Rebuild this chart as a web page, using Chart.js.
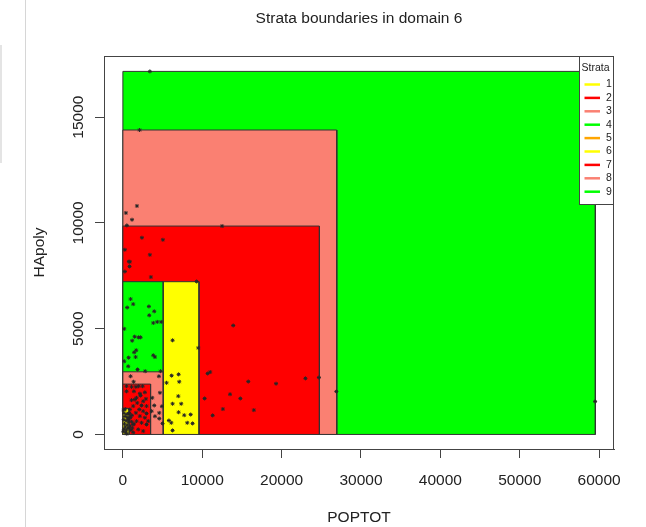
<!DOCTYPE html>
<html>
<head>
<meta charset="utf-8">
<script src="https://cdn.jsdelivr.net/npm/chart.js@4.4.1/dist/chart.umd.min.js"></script>
<style>
  html, body { margin: 0; padding: 0; background: #fff; }
  #wrap { position: relative; width: 646px; height: 527px; }
  #edge { position: absolute; left: 25px; top: 0; width: 1px; height: 527px; background: #d6d6d6; }
  #tab { position: absolute; left: 0; top: 45px; width: 2px; height: 118px; background: #e4e4e4; }
  canvas { position: absolute; left: 0; top: 0; }
</style>
</head>
<body>
<div id="wrap">
  <div id="edge"></div>
  <div id="tab"></div>
  <canvas id="c" width="646" height="527"></canvas>
</div>
<script>
// Strata of domain 6: upper bounds of POPTOT and HApoly for each stratum
const strata = ['1', '2', '3', '4', '5', '6', '7', '8', '9'];
const strataMaxPOPTOT = [800, 3490, 5080, 5080, null, 9590, 24760, 26950, 59530];
const strataMaxHApoly = [1230, 2380, 2960, 7220, null, 7220, 9850, 14390, 17160];
const strataColors = ['#FFFF00', '#FF0000', '#FA8072', '#00FF00', '#FFA500',
                      '#FFFF00', '#FF0000', '#FA8072', '#00FF00'];

// Sampling units (POPTOT, HApoly)
const unitPOPTOT = [
  3400, 59500, 2100, 26900, 24700,
  380, 1770, 500, 1150, 2400, 5040, 250, 3400, 880, 760, 840, 250, 3530, 9290, 9500,
  10680, 11310, 12500, 13900, 11000, 15800, 19300, 23000, 12600, 14800, 16500, 13500, 10300,
  6260, 6140, 7020, 5500, 7100, 6980, 6260, 7350, 7020, 7730, 8540, 5800, 6100, 8110, 8780, 6260,
  970, 1300, 540, 3280, 3320, 3950, 3830, 4330, 4830, 170, 1480, 1980, 2230, 1170, 1680, 1420,
  720, 1600, 3830, 4040, 170, 670, 1850, 2810, 4750,
  970, 4540, 1350, 4670, 3700, 3950, 4920, 3620, 4580, 4040, 4580, 5000,
  460, 1090, 1640, 1980, 2480, 460, 1390, 2140, 2770, 2230, 1720, 2900, 1090, 2560, 1810, 2350,
  1300, 2980, 880, 2060, 2560, 1640, 2980, 1130, 2140, 2770, 670, 1720, 2350, 1300, 2980, 800,
  1930, 2560, 3190, 1510,
  100, 300, 150, 500, 250, 600, 100, 400, 700, 200, 550, 300, 650, 150, 450, 50, 350, 500,
  700, 900, 1000, 1200, 1100, 950, 1300, 1400, 850
];
const unitHApoly = [
  17160, 1560, 14390, 2030, 2690,
  10470, 10800, 9880, 10150, 9300, 9200, 8730, 8490, 8160, 8170, 7940, 7700, 7440, 7230, 4090,
  2880, 900, 9850, 5150, 2950, 2500, 2400, 2650, 1200, 1700, 1150, 1900, 1700,
  4450, 2780, 2840, 2440, 2490, 1810, 1450, 1450, 1050, 910, 940, 660, 550, 550, 520, 190,
  6400, 6160, 6000, 6050, 5630, 5820, 5270, 5320, 5320, 4990, 4620, 4590, 4590, 4430, 3980, 3880,
  3630, 3660, 3740, 3660, 3460, 3220, 3070, 2990, 2990,
  2750, 2750, 2490, 1970, 1730, 1370, 1330, 1100, 1020, 860, 750, 520,
  2280, 2250, 2250, 2280, 2280, 2040, 2040, 1930, 1990, 1840, 1730, 1680, 1620, 1570, 1490, 1370,
  1340, 1340, 1180, 1180, 1100, 1020, 990, 900, 865, 790, 710, 630, 550, 470, 470, 310,
  240, 160, 630, 1650,
  1150, 1200, 1000, 950, 850, 800, 700, 650, 600, 500, 450, 350, 300, 250, 200, 150, 100, 30,
  1000, 400, 200, 300, 600, 800, 100, 500, 1000
];

// Axis ticks
const xTickValues = [0, 10000, 20000, 30000, 40000, 50000, 60000];
const yTickValues = [0, 5000, 10000, 15000];

const chartTitle = 'Strata boundaries in domain 6';
const xTitle = 'POPTOT';
const yTitle = 'HApoly';
const legendTitle = 'Strata';

const FONT = '"Liberation Sans", Arial, Helvetica, sans-serif';
const INK = '#222222';
const LINE = '#444444';

// each stratum is a box from the origin to its upper bounds
function stratumBox(i) {
  const x1 = strataMaxPOPTOT[i], y1 = strataMaxHApoly[i];
  if (x1 == null || y1 == null) return [];
  return [{x: 0, y: 0}, {x: 0, y: y1}, {x: x1, y: y1}, {x: x1, y: 0}, {x: 0, y: 0}];
}

const units = unitPOPTOT.map((x, i) => ({x, y: unitHApoly[i]}));

// first dataset is drawn last (on top): units, then stratum 1 ... stratum 9
const datasets = [{
  label: 'units',
  data: units,
  showLine: false,
  pointStyle: 'star',
  pointRadius: 2,
  borderWidth: 1,
  borderColor: '#262626',
  backgroundColor: '#262626'
}].concat(strata.map((s, i) => ({
  label: s,
  data: stratumBox(i),
  showLine: true,
  fill: 'shape',
  tension: 0,
  backgroundColor: strataColors[i],
  borderColor: '#333333',
  borderWidth: 1,
  pointRadius: 0
})));

// boxed legend in the upper right corner of the plot and the frame around the plot
const framePlugin = {
  id: 'frame',
  afterDatasetsDraw(chart) {
    const ctx = chart.ctx;
    const a = chart.chartArea;
    ctx.save();
    // legend
    const lx = 579.5, ly = 56.5, lw = 34, lh = 148;
    ctx.fillStyle = '#ffffff';
    ctx.fillRect(lx, ly, lw, lh);
    ctx.strokeStyle = LINE;
    ctx.lineWidth = 1;
    ctx.strokeRect(lx, ly, lw, lh);
    ctx.font = '10.5px ' + FONT;
    ctx.fillStyle = INK;
    ctx.textBaseline = 'middle';
    ctx.textAlign = 'left';
    ctx.fillText(legendTitle, lx + 2, ly + 12);
    strata.forEach((s, i) => {
      const y = ly + 28 + i * 13.4;
      ctx.strokeStyle = strataColors[i];
      ctx.lineWidth = 2.5;
      ctx.beginPath();
      ctx.moveTo(lx + 5, y);
      ctx.lineTo(lx + 20.5, y);
      ctx.stroke();
      ctx.fillStyle = INK;
      ctx.fillText(s, lx + 26.5, y);
    });
    // plot frame
    ctx.strokeStyle = LINE;
    ctx.lineWidth = 1;
    ctx.strokeRect(Math.round(a.left) + 0.5, Math.round(a.top) + 0.5,
                   Math.round(a.right) - Math.round(a.left) - 1,
                   Math.round(a.bottom) - Math.round(a.top));
    ctx.restore();
  }
};

new Chart(document.getElementById('c'), {
  type: 'scatter',
  data: { datasets },
  plugins: [framePlugin],
  options: {
    responsive: false,
    animation: false,
    events: [],
    devicePixelRatio: 1,
    layout: { padding: { top: 0, right: 32, bottom: 0, left: 0 } },
    plugins: {
      legend: { display: false },
      tooltip: { enabled: false },
      title: {
        display: true,
        text: chartTitle,
        fullSize: false,
        color: INK,
        font: { family: FONT, size: 15.5, weight: 'normal' },
        padding: { top: 9, bottom: 28.4 }
      }
    },
    scales: {
      x: {
        type: 'linear',
        min: -2380,
        max: 61880,
        afterBuildTicks: s => { s.ticks = xTickValues.map(v => ({value: v})); },
        afterFit: s => { s.height = 78; },
        border: { display: true, color: LINE, width: 1 },
        grid: { drawOnChartArea: false, drawTicks: true, tickLength: 9, color: LINE },
        ticks: {
          autoSkip: false, maxRotation: 0, padding: 13,
          color: INK, font: { family: FONT, size: 15.5 },
          callback: v => String(v)
        },
        title: {
          display: true, text: xTitle, color: INK,
          font: { family: FONT, size: 15.5 },
          padding: { top: 0, bottom: 0 }
        }
      },
      y: {
        type: 'linear',
        min: -688,
        max: 17888,
        afterBuildTicks: s => { s.ticks = yTickValues.map(v => ({value: v})); },
        afterFit: s => { s.width = 104; },
        border: { display: true, color: LINE, width: 1 },
        grid: { drawOnChartArea: false, drawTicks: true, tickLength: 9, color: LINE },
        ticks: {
          autoSkip: false, minRotation: 90, maxRotation: 90, crossAlign: 'center', padding: -5,
          color: INK, font: { family: FONT, size: 15.5 },
          callback: v => String(v)
        },
        title: {
          display: true, text: yTitle, color: INK,
          font: { family: FONT, size: 15.5 },
          padding: { top: 30, bottom: 0 }
        }
      }
    }
  }
});
</script>
</body>
</html>
